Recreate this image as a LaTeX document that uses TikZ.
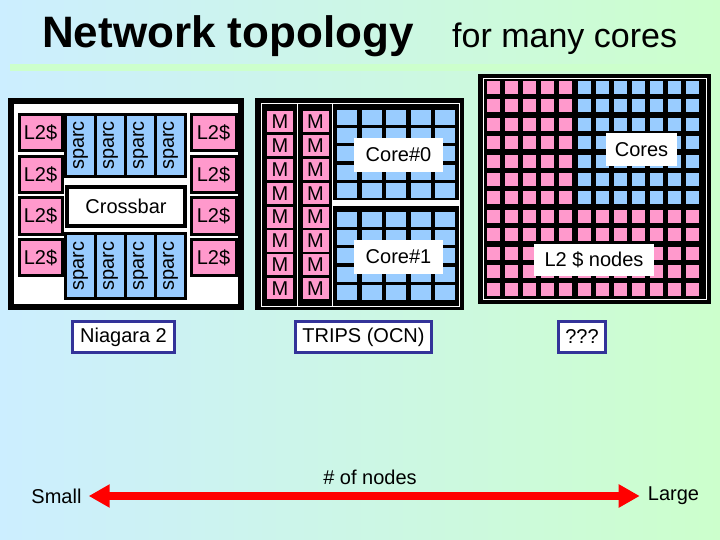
\documentclass[tikz,border=0pt]{standalone}
\usepackage{fontspec}
\setmainfont{Liberation Sans}
\usetikzlibrary{arrows.meta}
\definecolor{bgblue}{HTML}{CCEEFF}
\definecolor{bggreen}{HTML}{CCFFCC}
\definecolor{cellpink}{HTML}{FF99CC}
\definecolor{cellblue}{HTML}{99CCFF}
\definecolor{tagblue}{HTML}{333399}

\begin{document}
\begin{tikzpicture}[x=1pt,y=-1pt,
    txt/.style={inner sep=0pt,font=\fontsize{20}{24}\selectfont},
    unit/.style={txt,draw=black,line width=3pt},
    mcell/.style={txt,fill=cellpink,minimum width=26pt,minimum height=21pt},
    whitelabel/.style={txt,fill=white},
    tag/.style={txt,draw=tagblue,line width=2.5pt,fill=white,minimum height=31pt}]
        \useasboundingbox (0,0) rectangle (720,540);
        \shade[left color=bgblue,right color=bggreen] (0,0) rectangle (720,540);
        \fill[bggreen] (10,64) rectangle (720,71);
        \node[anchor=base west,inner sep=0pt,font=\bfseries\fontsize{44}{50}\selectfont]
        (title) at (42,48) {Network topology};
        \node[anchor=base west,inner sep=0pt,font=\fontsize{34}{40}\selectfont]
        (subtitle) at (452,48) {for many cores};
        % Niagara 2
        \draw[line width=6pt,fill=white] (11,101) rectangle (241,307);
        \foreach \r/\y in {1/133,2/174.5,3/216,4/257.5}{
          \node[unit,fill=cellpink,minimum width=43pt,minimum height=36pt] (l2w\r) at (40.5,\y) {L2\$};
          \node[unit,fill=cellpink,minimum width=45pt,minimum height=36pt] (l2e\r) at (213.5,\y) {L2\$};
        }
        \foreach \c/\x in {1/80.5,2/110.5,3/140.5,4/170.5}{
          \node[unit,fill=cellblue,rotate=90,minimum width=62pt,minimum height=30pt] (sparcn\c) at (\x,145.5) {sparc};
          \node[unit,fill=cellblue,rotate=90,minimum width=65pt,minimum height=30pt] (sparcs\c) at (\x,266) {sparc};
        }
        \node[unit,line width=4pt,fill=white,minimum width=118pt,minimum height=39pt] (crossbar) at (126,206.5) {Crossbar};
        % TRIPS
        \fill (255,98) rectangle (464,310);
        \draw[white,line width=1pt] (261,104) rectangle (459,306);
        \foreach \c/\x in {1/280,2/315.5}
          \foreach \r in {0,...,7}
            \node[mcell] (m\c\r) at (\x,{121.5+23.9*\r}) {M};
        \draw[white,line width=1pt] (297,104) -- (297,306);
        \draw[white,line width=1pt] (332,104) -- (332,306);
        \fill[white] (332,200.5) rectangle (459,206.5);
        \foreach \i in {0,...,4}
          \foreach \j in {0,...,4}{
            \fill[cellblue] ({337+24.6*\i},{110+18.2*\j}) rectangle +(20,15);
            \fill[cellblue] ({337+24.6*\i},{212+18.2*\j}) rectangle +(20,15);
          }
        \node[whitelabel,minimum width=89pt,minimum height=34pt] (core0) at (398.5,155) {Core\#0};
        \node[whitelabel,minimum width=89pt,minimum height=34pt] (core1) at (398.5,256.5) {Core\#1};
        % many cores
        \fill (478,74) rectangle (711,304);
        \draw[white,line width=1pt] (483,79) rectangle (706,299);
        \foreach \i in {0,...,11}
          \foreach \j in {0,...,11}{
            \def\cellcol{cellpink}
            \ifnum\i>4 \ifnum\j<7 \def\cellcol{cellblue}\fi\fi
            \fill[\cellcol] ({487+18.1*\i},{81+18.4*\j}) rectangle +(13,13);
          }
        \node[whitelabel,minimum width=71pt,minimum height=33pt] (cores) at (641.5,149.5) {Cores};
        \node[whitelabel,minimum width=120pt,minimum height=32pt] (l2nodes) at (594,260) {L2 \$ nodes};
        % names
        \node[tag,minimum width=102pt] (niagara) at (123.5,337) {Niagara 2};
        \node[tag,minimum width=136pt] (trips) at (363.5,337) {TRIPS (OCN)};
        \node[tag,minimum width=47pt] (unknown) at (582,337) {???};
        \node[txt] (small) at (56.5,496) {Small};
        \node[txt] (large) at (673.5,496) {Large};
        \node[txt] (count) at (370,477) {\# of nodes};
        \draw[red,line width=8pt,{Triangle[length=21pt,width=22pt]}-{Triangle[length=21pt,width=22pt]},
        shorten <=7pt,shorten >=8pt] (small.east) -- (large.west);
      \end{tikzpicture}
\end{document}
